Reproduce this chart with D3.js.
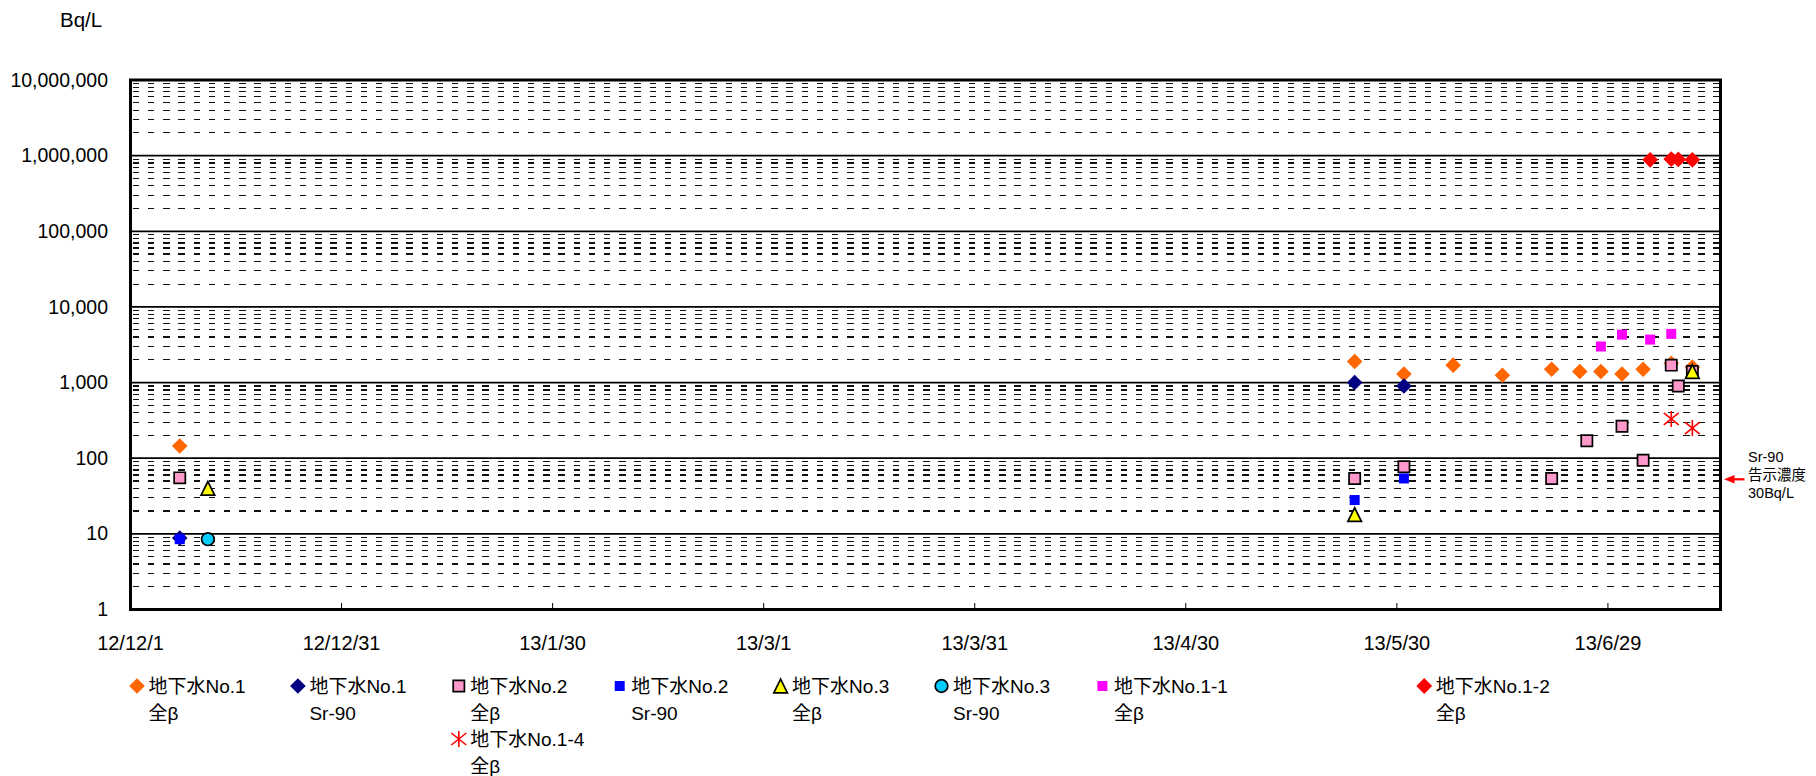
<!DOCTYPE html>
<html>
<head>
<meta charset="utf-8">
<script src="https://cdn.jsdelivr.net/npm/d3@7"></script>
<style>
  html, body { margin: 0; padding: 0; background: #fff; }
  svg { display: block; font-family: "Liberation Sans", Arial, "Noto Sans CJK JP", sans-serif; }
</style>
</head>
<body>
<svg id="chart" width="1816" height="776"></svg>
<script>
// ---- measured concentrations, Bq/L : [sampling date, value] ----
const no1Beta   = [["2012-12-08", 145], ["2013-05-24", 1900], ["2013-05-31", 1300], ["2013-06-07", 1700],
                   ["2013-06-14", 1250], ["2013-06-21", 1500], ["2013-06-25", 1400], ["2013-06-28", 1400],
                   ["2013-07-01", 1300], ["2013-07-04", 1500], ["2013-07-08", 1800], ["2013-07-11", 1600]];
const no1Sr90   = [["2012-12-08", 8.8], ["2013-05-24", 1000], ["2013-05-31", 900]];
const no2Beta   = [["2012-12-08", 55], ["2013-05-24", 54], ["2013-05-31", 77], ["2013-06-21", 54],
                   ["2013-06-26", 170], ["2013-07-01", 265], ["2013-07-04", 94], ["2013-07-08", 1700],
                   ["2013-07-09", 900], ["2013-07-11", 1400]];
const no2Sr90   = [["2012-12-08", 8.5], ["2013-05-24", 28], ["2013-05-31", 54]];
const no3Beta   = [["2012-12-12", 40], ["2013-05-24", 18], ["2013-07-11", 1400]];
const no3Sr90   = [["2012-12-12", 8.5]];
const no1_1Beta = [["2013-06-28", 3000], ["2013-07-01", 4300], ["2013-07-05", 3700], ["2013-07-08", 4400]];
const no1_2Beta = [["2013-07-05", 880000], ["2013-07-08", 900000], ["2013-07-09", 890000], ["2013-07-11", 880000]];
const no1_4Beta = [["2013-07-08", 330], ["2013-07-11", 250]];

// legend texts (two lines each)
const seriesNames = [
  ["地下水No.1", "全β"], ["地下水No.1", "Sr-90"], ["地下水No.2", "全β"], ["地下水No.2", "Sr-90"],
  ["地下水No.3", "全β"], ["地下水No.3", "Sr-90"], ["地下水No.1-1", "全β"], ["地下水No.1-2", "全β"],
  ["地下水No.1-4", "全β"]
];

// axis ticks
const xTickDates  = ["2012-12-01", "2012-12-31", "2013-01-30", "2013-03-01", "2013-03-31", "2013-04-30", "2013-05-30", "2013-06-29"];
const yTickValues = [1, 10, 100, 1000, 10000, 100000, 1000000, 10000000];
const xDomain     = ["2012-12-01", "2013-07-15"];
const unitLabel   = "Bq/L";
const limitNote   = ["Sr-90", "告示濃度", "30Bq/L"];

// ---- drawing ----
const parse = d3.utcParse("%Y-%m-%d");
const svg = d3.select("#chart");
svg.append("rect").attr("width", 1816).attr("height", 776).attr("fill", "#fff");

const plot = { left: 130.5, right: 1720.5, top: 80, bottom: 609.5 };
const x = d3.scaleUtc().domain(xDomain.map(parse)).range([plot.left, plot.right]);
const y = d3.scaleLog().domain([1, 1e7]).range([plot.bottom, plot.top]);

// marker shapes
function shapePath(kind, s) {
  const p = d3.path();
  if (kind === "diamond") {
    p.moveTo(0, -s); p.lineTo(s, 0); p.lineTo(0, s); p.lineTo(-s, 0); p.closePath();
  } else if (kind === "square") {
    p.rect(-s, -s, 2 * s, 2 * s);
  } else if (kind === "triangle") {
    p.moveTo(0, -s); p.lineTo(s, s); p.lineTo(-s, s); p.closePath();
  } else if (kind === "circle") {
    p.arc(0, 0, s, 0, 2 * Math.PI);
  } else if (kind === "star") {
    p.moveTo(0, -s - 0.5); p.lineTo(0, s + 0.5);
    p.moveTo(-s, -s * 0.8); p.lineTo(s, s * 0.8);
    p.moveTo(-s, s * 0.8); p.lineTo(s, -s * 0.8);
  }
  return p.toString();
}

const series = [
  { data: no1Beta,   shape: "diamond",  size: 7.8, fill: "#FF6600", stroke: "none" },
  { data: no1Sr90,   shape: "diamond",  size: 7.8, fill: "#000080", stroke: "none" },
  { data: no2Beta,   shape: "square",   size: 5.6, fill: "#FF99CC", stroke: "#000", sw: 1.7 },
  { data: no2Sr90,   shape: "square",   size: 5,   fill: "#0000FF", stroke: "none" },
  { data: no3Beta,   shape: "triangle", size: 6.8, fill: "#FFFF00", stroke: "#000", sw: 1.7 },
  { data: no3Sr90,   shape: "circle",   size: 6.3, fill: "#00CCFF", stroke: "#000", sw: 1.7 },
  { data: no1_1Beta, shape: "square",   size: 5,   fill: "#FF00FF", stroke: "none" },
  { data: no1_2Beta, shape: "diamond",  size: 7.9, fill: "#FF0000", stroke: "none" },
  { data: no1_4Beta, shape: "star",     size: 7.5, fill: "none",    stroke: "#FF0000", sw: 1.6 }
].map((s, i) => Object.assign(s, { name: seriesNames[i] }));

// minor gridlines (2..9 within each decade), dashed
const minorValues = [];
for (let d = 0; d < 7; d++) for (let k = 2; k <= 9; k++) minorValues.push(k * Math.pow(10, d));
svg.append("g").attr("shape-rendering", "crispEdges")
  .selectAll("line").data(minorValues).join("line")
  .attr("x1", plot.left + 2.2).attr("x2", plot.right - 1.5)
  .attr("y1", d => y(d)).attr("y2", d => y(d))
  .attr("stroke", "#111").attr("stroke-width", 1.2)
  .attr("stroke-dasharray", "6.5,8.7");

// major gridlines at each decade
svg.append("g").selectAll("line").data(yTickValues.slice(1, -1)).join("line")
  .attr("x1", plot.left).attr("x2", plot.right)
  .attr("y1", d => y(d)).attr("y2", d => y(d))
  .attr("stroke", "#000").attr("stroke-width", 1.7);

// y axis labels
svg.append("g").selectAll("text").data(yTickValues).join("text")
  .attr("x", 108).attr("y", d => y(d) + 6.6)
  .attr("text-anchor", "end").attr("font-size", 19.5).attr("fill", "#000")
  .text(d => d3.format(",")(d));

svg.append("text").attr("x", 60).attr("y", 26.7).attr("font-size", 20.5).attr("fill", "#000").text(unitLabel);

// x axis ticks (inward) and labels
const fmt = d3.utcFormat("%y/%-m/%-d");
const xt = xTickDates.map(parse);
svg.append("g").selectAll("line").data(xt).join("line")
  .attr("x1", d => x(d)).attr("x2", d => x(d))
  .attr("y1", plot.bottom).attr("y2", plot.bottom - 6.5)
  .attr("stroke", "#000").attr("stroke-width", 1);
svg.append("g").selectAll("text").data(xt).join("text")
  .attr("x", d => x(d)).attr("y", 650)
  .attr("text-anchor", "middle").attr("font-size", 20).attr("fill", "#000")
  .text(fmt);

// plot frame
svg.append("rect")
  .attr("x", plot.left).attr("y", plot.top)
  .attr("width", plot.right - plot.left).attr("height", plot.bottom - plot.top)
  .attr("fill", "none").attr("stroke", "#000").attr("stroke-width", 3);

// data markers
function drawMarker(g, s) {
  g.append("path").attr("d", shapePath(s.shape, s.size))
    .attr("fill", s.fill).attr("stroke", s.stroke).attr("stroke-width", s.sw || 0)
    .attr("stroke-linejoin", "miter");
}
series.forEach(s => {
  const g = svg.append("g");
  s.data.forEach(([date, v]) => {
    drawMarker(g.append("g").attr("transform", `translate(${x(parse(date))},${y(v)})`), s);
  });
});

// legend: 9 slots per row, slot 7 of the first row stays empty
const legendSlots = [[0, 0], [1, 0], [2, 0], [3, 0], [4, 0], [5, 0], [6, 0], [8, 0], [2, 2]];
const colStep = 160.9, rowStep = 26.5, legMarkX = 137, legTextX = 148.5, legBase = 693.3;
series.forEach((s, i) => {
  const [c, r] = legendSlots[i];
  const g = svg.append("g");
  drawMarker(g.append("g").attr("transform", `translate(${legMarkX + c * colStep},${legBase - 7.3 + r * rowStep})`), s);
  s.name.forEach((line, j) => {
    g.append("text")
      .attr("x", legTextX + c * colStep).attr("y", legBase + (r + j) * rowStep)
      .attr("font-size", 19).attr("fill", "#000").text(line);
  });
});

// Sr-90 regulatory limit note beside the plot
const note = svg.append("g");
note.append("line").attr("x1", 1733).attr("x2", 1744.5).attr("y1", 479.3).attr("y2", 479.3)
  .attr("stroke", "#FF0000").attr("stroke-width", 2.3);
note.append("path").attr("d", "M1724,479.3L1734.5,475L1734.5,483.6Z").attr("fill", "#FF0000");
limitNote.forEach((t, i) => {
  note.append("text").attr("x", 1748).attr("y", 461.5 + i * 18)
    .attr("font-size", 14.5).attr("fill", "#000").text(t);
});
</script>
</body>
</html>
